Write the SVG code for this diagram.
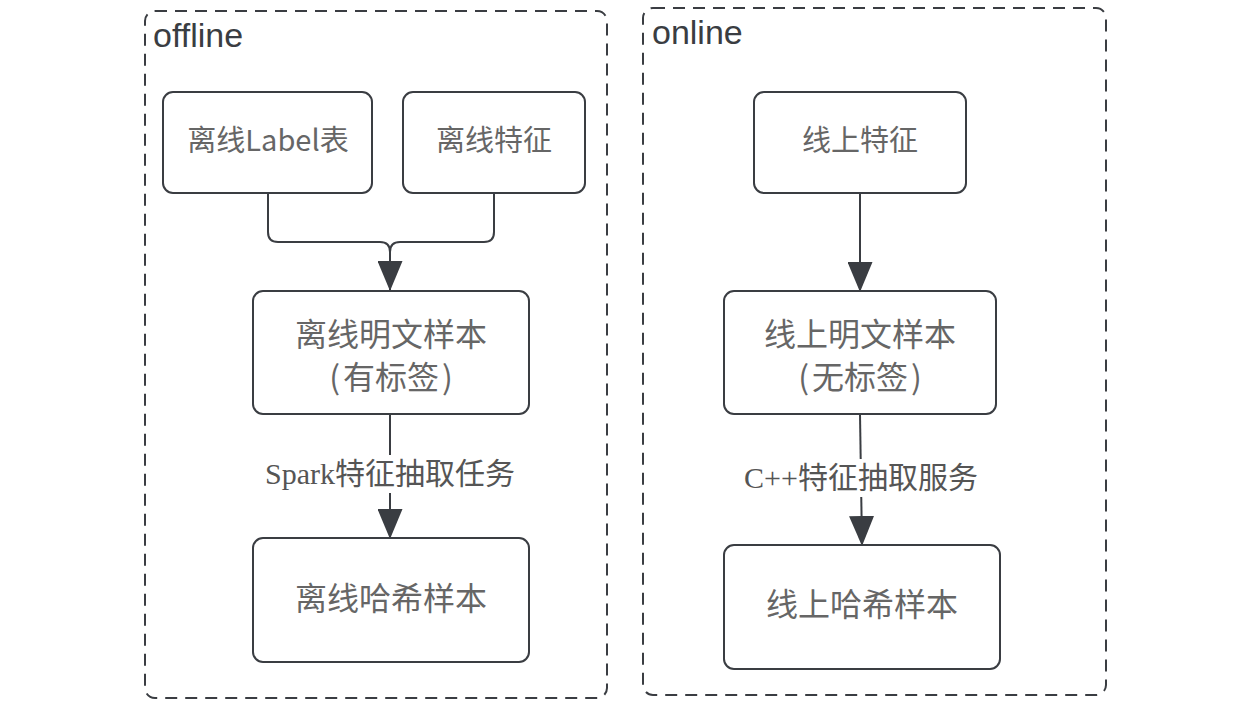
<svg xmlns="http://www.w3.org/2000/svg" width="1236" height="710" viewBox="0 0 1236 710">
<style>
.cont{fill:none;stroke:#3a3d42;stroke-width:2;stroke-dasharray:12 8}
.box{fill:#fff;stroke:#3a3d42;stroke-width:2}
.title{font-family:"Liberation Sans",Arial,sans-serif;font-size:34px;fill:#3a3d42}
.nt{font-family:"Noto Sans CJK SC","Noto Sans",sans-serif;fill:#666;text-anchor:middle;dominant-baseline:central}
.s29{font-size:29px}
.s32{font-size:32px}
.edge{fill:none;stroke:#3a3d42;stroke-width:2}
.el{font-family:"Liberation Serif","Noto Sans CJK SC",serif;font-size:30px;fill:#555;text-anchor:middle;dominant-baseline:central}
</style>
<defs>
<marker id="arr" markerWidth="30" markerHeight="25" refX="29" refY="12.5" orient="auto" markerUnits="userSpaceOnUse" viewBox="0 0 30 25">
<path d="M0,0 L30,12.5 L0,25 Z" fill="#3a3d42"/>
</marker>
</defs>
<rect width="1236" height="710" fill="#fff"/>
<g id="offline">
<rect class="cont" x="145" y="11" width="462" height="687" rx="10"/>
<text class="title" x="153" y="47">offline</text>
</g>
<g id="online">
<rect class="cont" x="643" y="8" width="463" height="687" rx="10"/>
<text class="title" x="652" y="44">online</text>
</g>
<g id="connectors">
<path class="edge" d="M268,193 V232 Q268,242 278,242 H380 Q390,242 390,252 V290" marker-end="url(#arr)"/>
<path class="edge" d="M494,193 V232 Q494,242 484,242 H400 Q390,242 390,252"/>
<path class="edge" d="M390,414 V538" marker-end="url(#arr)"/>
<path class="edge" d="M860,193 V291" marker-end="url(#arr)"/>
<path class="edge" d="M860,414 L862,545" marker-end="url(#arr)"/>
<rect x="260" y="455" width="262" height="38" fill="#fff"/>
<text class="el" x="390" y="473">Spark特征抽取任务</text>
<rect x="738" y="459" width="247" height="38" fill="#fff"/>
<text class="el" x="861" y="477">C++特征抽取服务</text>
</g>
<g id="n_label">
<rect class="box" x="163" y="92" width="209" height="101" rx="10"/>
<text class="nt s29" x="268" y="138">离线Label表</text>
</g>
<g id="n_offfeat">
<rect class="box" x="403" y="92" width="182" height="101" rx="10"/>
<text class="nt s29" x="494" y="138">离线特征</text>
</g>
<g id="n_offplain">
<rect class="box" x="253" y="291" width="276" height="123" rx="10"/>
<text class="nt s32" x="391" y="332">离线明文样本</text>
<text class="nt s32" x="391" y="375">(<tspan dx="3">有标签</tspan><tspan dx="3">)</tspan></text>
</g>
<g id="n_offhash">
<rect class="box" x="253" y="538" width="276" height="124" rx="10"/>
<text class="nt s32" x="391" y="596">离线哈希样本</text>
</g>
<g id="n_onfeat">
<rect class="box" x="754" y="92" width="212" height="101" rx="10"/>
<text class="nt s29" x="860" y="138">线上特征</text>
</g>
<g id="n_onplain">
<rect class="box" x="724" y="291" width="272" height="123" rx="10"/>
<text class="nt s32" x="860" y="332">线上明文样本</text>
<text class="nt s32" x="860" y="375">(<tspan dx="3">无标签</tspan><tspan dx="3">)</tspan></text>
</g>
<g id="n_onhash">
<rect class="box" x="724" y="545" width="276" height="124" rx="10"/>
<text class="nt s32" x="862" y="602">线上哈希样本</text>
</g>
</svg>
